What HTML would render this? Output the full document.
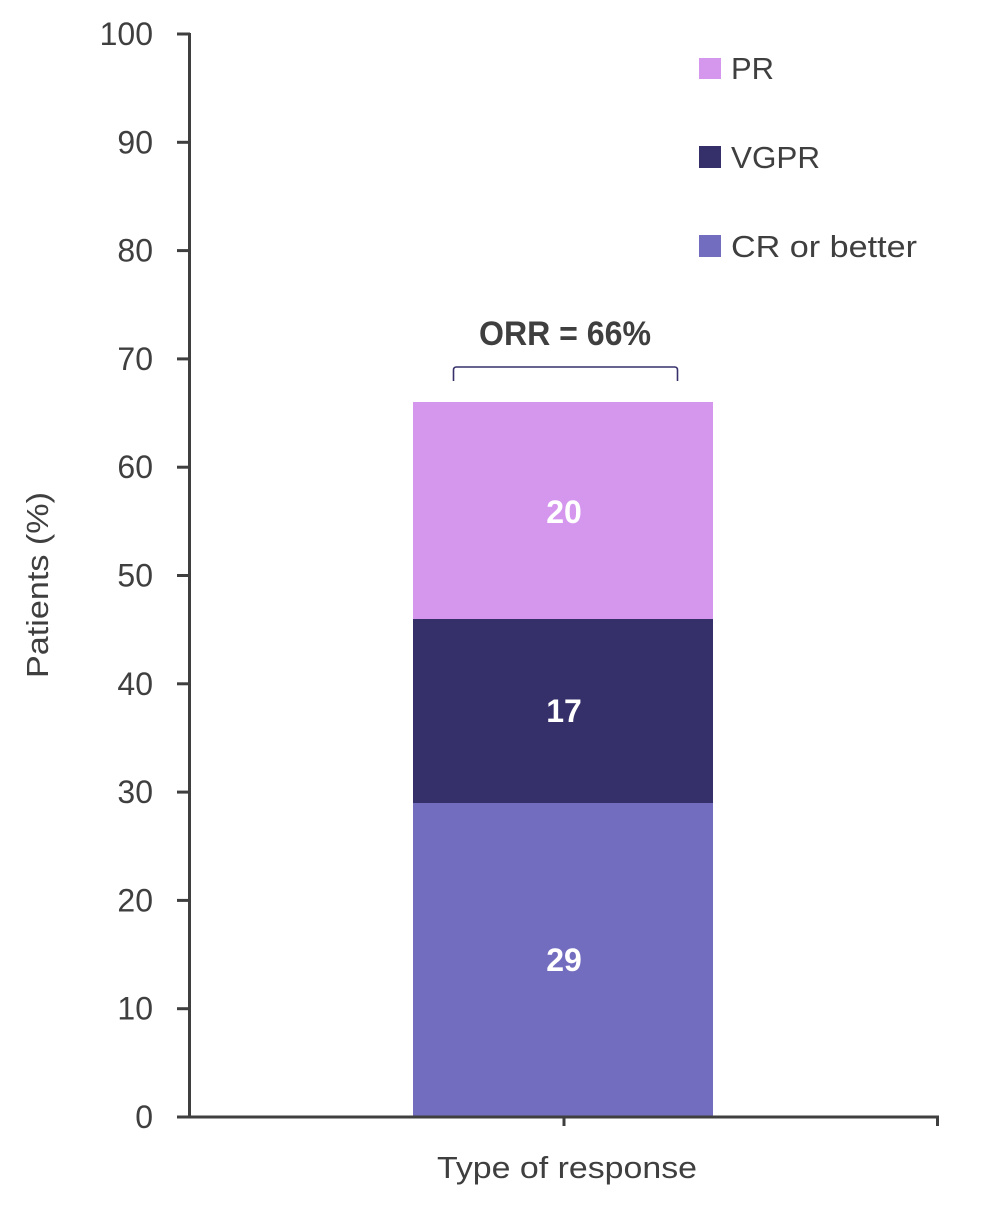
<!DOCTYPE html>
<html>
<head>
<meta charset="utf-8">
<style>
  html,body{margin:0;padding:0;background:#fff;}
  svg{display:block;}
  text{font-family:"Liberation Sans",sans-serif;}
</style>
</head>
<body>
<svg width="1000" height="1207" viewBox="0 0 1000 1207" xmlns="http://www.w3.org/2000/svg">
  <rect x="0" y="0" width="1000" height="1207" fill="#ffffff"/>

  <!-- bars -->
  <rect x="413" y="402" width="300" height="217" fill="#d597ee"/>
  <rect x="413" y="619" width="300" height="184" fill="#35306a"/>
  <rect x="413" y="803" width="300" height="314" fill="#736dc0"/>

  <!-- bar labels -->
  <g fill="#ffffff" font-weight="bold" font-size="32" text-anchor="middle">
    <text x="564" y="523">20</text>
    <text x="564" y="722">17</text>
    <text x="564" y="971">29</text>
  </g>

  <!-- axes -->
  <g stroke="#3f3f3f" stroke-width="3" fill="none">
    <line x1="189.5" y1="33" x2="189.5" y2="1118.5"/>
    <line x1="188" y1="1117" x2="939" y2="1117"/>
    <line x1="564" y1="1117" x2="564" y2="1126"/>
    <line x1="937.5" y1="1117" x2="937.5" y2="1126"/>
    <line x1="177" y1="34" x2="190" y2="34"/>
    <line x1="177" y1="142.3" x2="190" y2="142.3"/>
    <line x1="177" y1="250.6" x2="190" y2="250.6"/>
    <line x1="177" y1="358.9" x2="190" y2="358.9"/>
    <line x1="177" y1="467.2" x2="190" y2="467.2"/>
    <line x1="177" y1="575.5" x2="190" y2="575.5"/>
    <line x1="177" y1="683.8" x2="190" y2="683.8"/>
    <line x1="177" y1="792.1" x2="190" y2="792.1"/>
    <line x1="177" y1="900.4" x2="190" y2="900.4"/>
    <line x1="177" y1="1008.7" x2="190" y2="1008.7"/>
    <line x1="177" y1="1117" x2="190" y2="1117"/>
  </g>

  <!-- y tick labels -->
  <g fill="#3f3f3f" font-size="32" text-anchor="end">
    <text x="153" y="45">100</text>
    <text x="153" y="153.3">90</text>
    <text x="153" y="261.6">80</text>
    <text x="153" y="369.9">70</text>
    <text x="153" y="478.2">60</text>
    <text x="153" y="586.5">50</text>
    <text x="153" y="694.8">40</text>
    <text x="153" y="803.1">30</text>
    <text x="153" y="911.4">20</text>
    <text x="153" y="1019.7">10</text>
    <text x="153" y="1128">0</text>
  </g>

  <!-- axis titles -->
  <text x="567" y="1178" fill="#3f3f3f" font-size="31" text-anchor="middle" textLength="260" lengthAdjust="spacingAndGlyphs">Type of response</text>
  <text transform="translate(48,585) rotate(-90)" fill="#3f3f3f" font-size="31" text-anchor="middle" textLength="186" lengthAdjust="spacingAndGlyphs">Patients (%)</text>

  <!-- ORR annotation -->
  <text x="565" y="345" fill="#3f3f3f" font-size="34" font-weight="bold" text-anchor="middle" textLength="172" lengthAdjust="spacingAndGlyphs">ORR = 66%</text>
  <path d="M453.5,381 L453.5,370 Q453.5,367 456.5,367 L674.5,367 Q677.5,367 677.5,370 L677.5,381" fill="none" stroke="#35306a" stroke-width="1.6"/>

  <!-- legend -->
  <rect x="699" y="58" width="22" height="21" fill="#d597ee"/>
  <rect x="699" y="146" width="22" height="22" fill="#35306a"/>
  <rect x="699" y="235" width="22" height="22" fill="#736dc0"/>
  <g fill="#3f3f3f" font-size="31">
    <text x="731" y="79" textLength="43" lengthAdjust="spacingAndGlyphs">PR</text>
    <text x="731" y="168" textLength="89" lengthAdjust="spacingAndGlyphs">VGPR</text>
    <text x="731" y="257" textLength="186" lengthAdjust="spacingAndGlyphs">CR or better</text>
  </g>
</svg>
</body>
</html>
